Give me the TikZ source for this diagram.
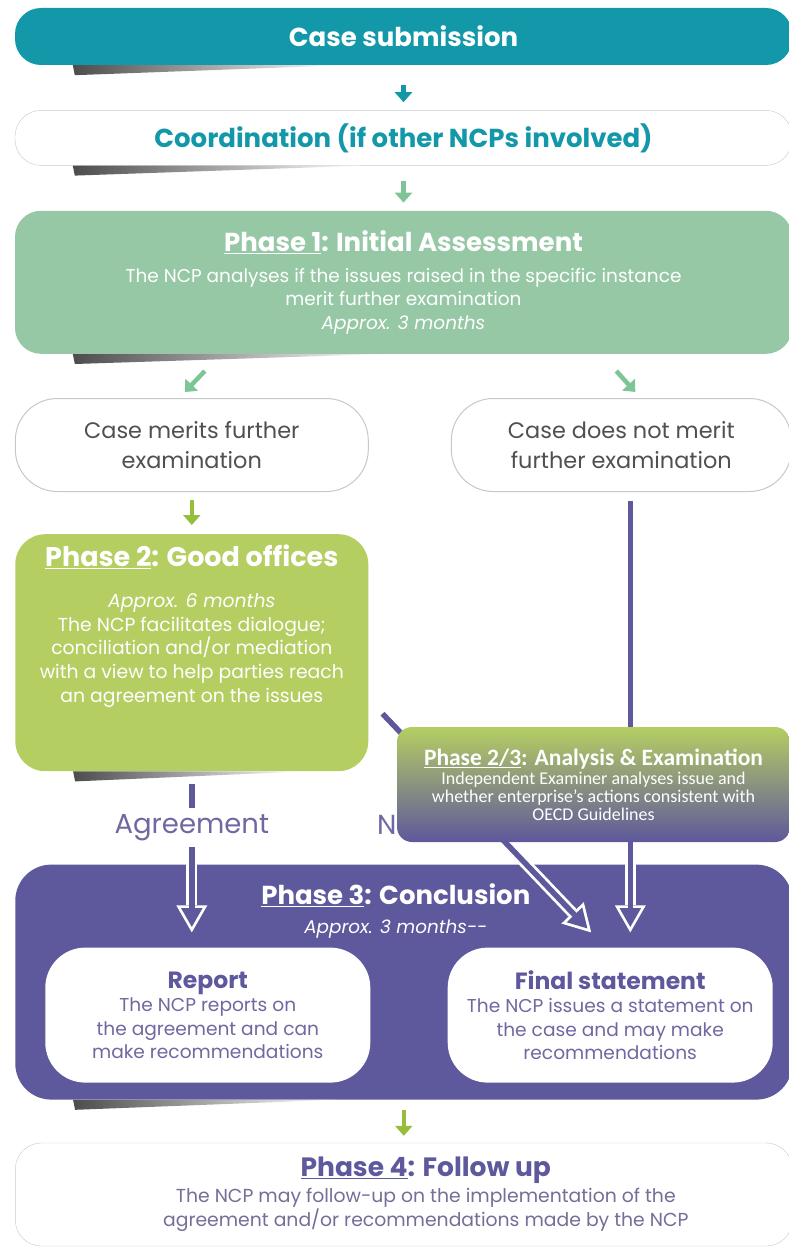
\documentclass[tikz,border=0pt]{standalone}
\usepackage{fontspec}
\setmainfont{Poppins}
\newfontfamily\examfont{Carlito}
\usetikzlibrary{positioning,calc,arrows.meta}

\definecolor{ncpteal}{RGB}{18,152,168}
\definecolor{ncpgreen}{RGB}{150,200,166}
\definecolor{ncplime}{RGB}{181,206,98}
\definecolor{ncppurple}{RGB}{94,88,156}
\definecolor{ncplilac}{RGB}{112,104,160}
\definecolor{ncpgray}{RGB}{80,80,80}
\definecolor{ncpline}{RGB}{200,200,200}
\definecolor{ncpmint}{RGB}{125,196,150}
\definecolor{ncpleaf}{RGB}{150,190,60}

\newcommand{\ttlfont}{\fontsize{26}{31}\selectfont\bfseries}
\newcommand{\curlshadow}[2]{\shade[left color=black!70, right color=white]
  ($(#1.south west)+(58,0)$) -- ($(#1.south west)+(#2,0)$) -- ($(#1.south west)+(60,10)$) -- cycle;}

\begin{document}
\begin{tikzpicture}[x=1pt, y=-1pt, node distance=45pt,
  widebox/.style={rounded corners=26pt, minimum width=777pt, align=center, inner sep=0pt},
  sidebox/.style={rounded corners=42pt, draw=ncpline, line width=1pt, fill=white, text=ncpgray, align=center, minimum height=93pt, font=\fontsize{22.4}{30}\selectfont},
  innerbox/.style={rounded corners=40pt, fill=white, minimum width=325pt, minimum height=135pt, align=center, text=ncplilac, font=\fontsize{18.6}{23.5}\selectfont},
  smallarrow/.style={line width=4.5pt, -{Triangle[length=10pt,width=17pt]}},
  bigout/.style={draw=white, line width=11pt, -{Triangle[length=27pt,width=31pt,line width=0pt]}},
  bigin/.style={draw=ncppurple, line width=5.5pt, -{Triangle[length=18.75pt,width=21.5pt,line width=0pt]}},
  lbl/.style={text=ncplilac, font=\fontsize{27.5}{30}\selectfont}
]
\useasboundingbox (0,0) rectangle (788,1247);

% boxes
\node[widebox, fill=ncpteal, text=white, minimum height=57pt, font=\ttlfont] (case) at (403.5,36.5) {Case submission};
\node[widebox, draw=ncpline, fill=white, text=ncpteal, minimum height=55pt, font=\ttlfont, below=of case] (coord) {Coordination (if other NCPs involved)};
\node[widebox, fill=ncpgreen, text=white, minimum height=143pt, font=\fontsize{18.5}{23.3}\selectfont, below=of coord] (p1)
  {{\ttlfont\underline{Phase 1}: Initial Assessment}\\[8pt]
   The NCP analyses if the issues raised in the specific instance\\
   merit further examination\\
   \itshape Approx. 3 months};
\curlshadow{case}{330}
\curlshadow{coord}{350}
\curlshadow{p1}{370}

\node[sidebox, minimum width=353pt, below=44pt of p1.south west, anchor=north west] (merits) {Case merits further\\examination};
\node[sidebox, minimum width=340pt, right=82pt of merits] (nomerit) {Case does not merit\\further examination};

\node[rounded corners=30pt, fill=ncplime, minimum width=353pt, minimum height=237pt, below=42pt of merits] (p2) {};
\node[text=white, align=center, inner sep=0pt, font=\fontsize{18.8}{23.7}\selectfont, below=11pt of p2.north] (p2txt)
  {{\fontsize{27}{31}\selectfont\bfseries\underline{Phase 2}: Good offices}\\[17pt]
   \itshape Approx. 6 months\\
   The NCP facilitates dialogue;\\
   conciliation and/or mediation\\
   with a view to help parties reach\\
   an agreement on the issues};
\curlshadow{p2}{290}

\node[rounded corners=36pt, fill=ncppurple, minimum width=777pt, minimum height=235pt, below=93pt of p2.south west, anchor=north west] (p3) {};
\node[text=white, align=center, inner sep=0pt, font=\fontsize{18.4}{24}\selectfont, below=19pt of p3.north, xshift=-8pt] (p3txt)
  {{\ttlfont\underline{Phase 3}: Conclusion}\\[5pt]
   \itshape Approx. 3 months-{}-};
\curlshadow{p3}{320}
\node[innerbox, below right=83pt and 30pt of p3.north west] (rep)
  {{\fontsize{23.5}{27}\selectfont\bfseries\color{ncppurple}Report}\\
   The NCP reports on\\ the agreement and can\\ make recommendations};
\node[innerbox, right=77pt of rep] (fs)
  {{\fontsize{23.5}{27}\selectfont\bfseries\color{ncppurple}Final statement}\\
   The NCP issues a statement on\\ the case and may make\\ recommendations};

\node[widebox, draw=ncpline, fill=white, minimum height=103pt, below=43pt of p3] (p4) {};
\node[text=ncplilac!75!gray, align=center, inner sep=0pt, font=\fontsize{18.8}{24.5}\selectfont, xshift=22pt] (p4txt) at (p4.center)
  {{\fontsize{26.5}{31}\selectfont\bfseries\color{ncppurple}\underline{Phase 4}: Follow up}\\[1pt]
   The NCP may follow-up on the implementation of the\\
   agreement and/or recommendations made by the NCP};

% small arrows
\draw[smallarrow, ncpteal, shorten <=20pt, shorten >=8pt] (case) -- (coord);
\draw[smallarrow, ncpmint, shorten <=15pt, shorten >=8pt] (coord) -- (p1);
\draw[smallarrow, ncpmint] ($(merits.north)+(13,-27)$) -- ($(merits.north)+(-7,-6)$);
\draw[smallarrow, ncpmint] ($(nomerit.north)+(-5,-27)$) -- ($(nomerit.north)+(14,-6)$);
\draw[smallarrow, ncpleaf, shorten <=8pt, shorten >=9pt] (merits) -- (p2);
\draw[smallarrow, ncpleaf, shorten <=10pt, shorten >=7pt] (p3) -- (p4);

% outcome arrows
\coordinate (noagr) at ($(p2.east)+(14,61)$);
\coordinate (noagrend) at ($(fs.north)+(-19,-15)$);
\draw[bigout, shorten <=13pt, shorten >=15pt] (p2.south) -- (p2.south |- rep.north);
\draw[bigin, shorten <=13pt, shorten >=20.5pt] (p2.south) -- node[lbl, fill=white, inner sep=6pt, pos=.32] (agr) {Agreement} (p2.south |- rep.north);
\draw[bigout, shorten <=9pt, shorten >=15pt] ([xshift=9pt]nomerit.south) -- ([xshift=9pt]nomerit.south |- fs.north);
\draw[bigin, shorten <=9pt, shorten >=20.5pt] ([xshift=9pt]nomerit.south) -- ([xshift=9pt]nomerit.south |- fs.north);
\draw[bigout] (noagr) -- (noagrend);
\draw[bigin, shorten >=5.5pt] (noagr) -- (noagrend);
\node[lbl, anchor=west, inner sep=0pt] (nlbl) at (377,825) {N};

% overlay box
\node[rounded corners=15pt, top color=ncplime, bottom color=ncppurple, minimum width=393pt, minimum height=115pt, text=white, align=center, inner sep=0pt, font=\examfont\fontsize{18}{18}\selectfont] (exam) at (593.5,784.5)
  {{\fontsize{23.5}{24}\selectfont\bfseries\underline{Phase 2/3}: Analysis \& Examination}\\[1pt]
   Independent Examiner analyses issue and\\
   whether enterprise’s actions consistent with\\
   OECD Guidelines};
\end{tikzpicture}
\end{document}
